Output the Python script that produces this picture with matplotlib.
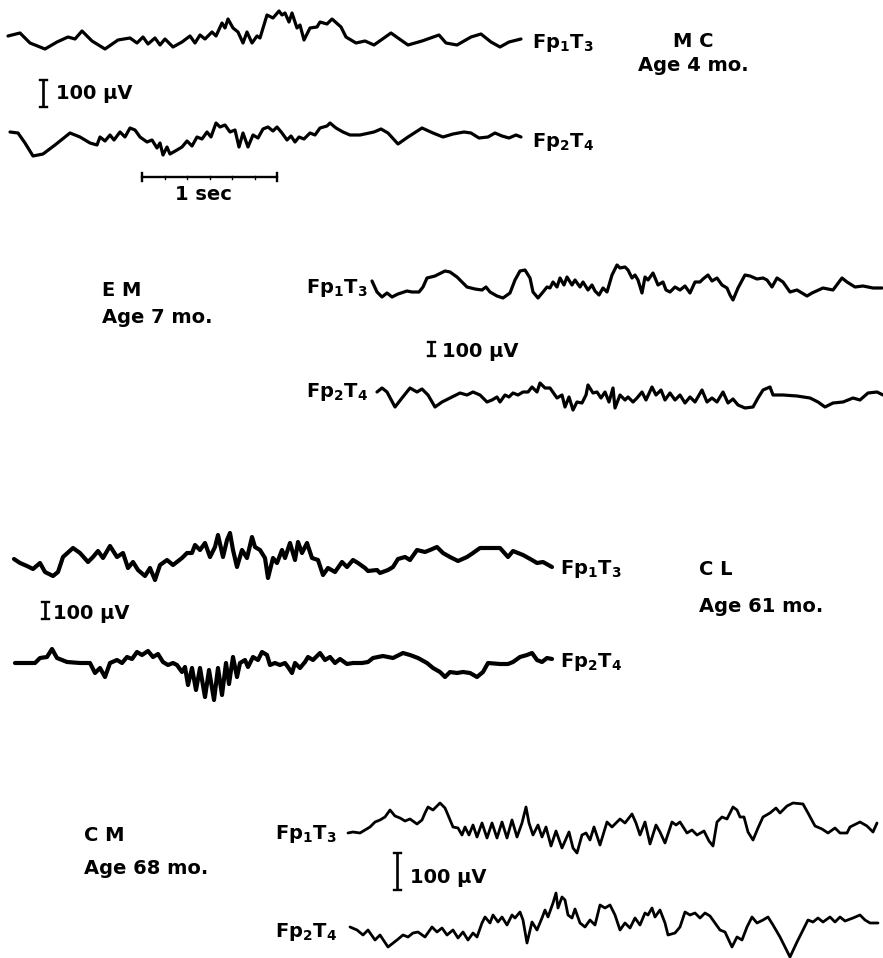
#!/usr/bin/env python3
"""Redraw the four-child EEG figure (Fp1T3 / Fp2T4 pairs) as out.png."""

import matplotlib

matplotlib.use("Agg")
import matplotlib.pyplot as plt
import numpy as np

INK = "#000000"
W, H = 883, 958

# Each entry is (time, deflection): time in pen steps from the start of the
# trace (about 135 steps = 1 sec), deflection in steps upward from baseline.
MC_FP1T3 = [
    (0, 4), (12, 7), (22, -3), (37, -9), (49, -2), (60, 3), (67, 1), (74, 9),
    (84, -1), (97, -9), (110, 0), (122, 2), (129, -3), (135, 3), (140, -4),
    (147, 2), (152, -5), (157, 1), (165, -7), (174, -2), (182, 4), (187, -3),
    (192, 5), (197, 1), (204, 8), (208, 4), (214, 17), (217, 12), (220, 21),
    (225, 12), (230, 8), (235, -3), (239, 8), (244, -3), (249, 4), (252, 2),
    (259, 25), (265, 22), (271, 29), (274, 25), (277, 27), (281, 18),
    (284, 27), (289, 12), (292, 15), (296, 0), (302, 12), (309, 13),
    (312, 18), (319, 16), (324, 21), (333, 13), (338, 3), (348, -3),
    (357, -1), (366, -5), (383, 7), (390, 2), (400, -5), (414, -1), (431, 5),
    (438, -3), (449, -5), (463, 3), (473, 6), (483, -2), (492, -7),
    (501, -2), (513, 1),
]
MC_FP2T4 = [
    (0, 8), (8, 7), (15, -3), (23, -16), (33, -14), (45, -5), (60, 7),
    (70, 3), (80, -3), (87, -5), (90, 3), (95, -1), (100, 5), (104, 0),
    (110, 8), (115, 3), (120, 12), (125, 10), (130, 3), (137, -2), (142, 0),
    (147, -8), (150, -3), (153, -15), (157, -7), (160, -14), (167, -10),
    (172, -7), (177, -1), (182, -6), (187, 3), (192, 1), (197, 8), (201, 3),
    (206, 17), (210, 13), (215, 15), (220, 8), (225, 10), (229, -7),
    (233, 7), (238, -7), (243, 5), (248, 2), (253, 11), (258, 13), (263, 9),
    (267, 13), (272, 7), (277, 0), (281, 4), (285, -2), (289, 3), (294, 1),
    (300, 7), (305, 5), (310, 12), (317, 14), (320, 17), (326, 12),
    (333, 8), (340, 5), (350, 5), (364, 8), (371, 11), (378, 7), (388, -4),
    (398, 3), (412, 12), (423, 7), (433, 3), (443, 6), (454, 8), (461, 7),
    (469, 2), (478, 3), (485, 7), (492, 4), (499, 2), (506, 5), (511, 3),
]
EM_FP1T3 = [
    (0, 4), (5, -7), (10, -12), (15, -8), (20, -12), (26, -9), (35, -6),
    (40, -7), (47, -7), (51, -2), (55, 7), (63, 9), (73, 14), (78, 13),
    (85, 8), (90, 3), (95, -2), (103, -4), (110, -5), (114, -2), (118, -7),
    (125, -11), (131, -13), (138, -8), (143, 5), (148, 14), (153, 15),
    (158, 7), (161, -7), (166, -13), (171, -7), (175, -2), (178, -3),
    (181, 3), (185, -2), (188, 7), (192, 0), (195, 8), (200, 0), (203, 5),
    (208, -2), (211, 3), (216, -5), (220, 0), (223, -6), (227, -10),
    (231, -3), (235, -7), (240, 10), (245, 20), (248, 17), (253, 18),
    (256, 15), (260, 7), (263, 10), (266, 5), (270, -8), (273, 8), (276, 5),
    (281, 12), (286, 0), (291, 3), (294, -5), (298, -7), (303, -2),
    (308, -5), (313, -1), (318, -8), (323, 3), (328, 3), (331, 6), (336, 10),
    (340, 4), (345, 7), (350, 0), (355, -3), (358, -10), (361, -15),
    (366, -3), (373, 10), (378, 9), (385, 6), (391, 7), (395, 5), (400, -2),
    (405, 7), (411, 3), (418, -7), (425, -5), (435, -11), (440, -8),
    (451, -3), (461, -5), (470, 7), (475, 3), (483, -2), (491, -1),
    (501, -3), (510, -3),
]
EM_FP2T4 = [
    (0, 3), (5, 7), (10, 3), (18, -12), (25, -3), (33, 7), (40, 3), (45, 6),
    (51, 0), (58, -12), (65, -7), (75, -2), (83, 2), (90, 0), (96, 3),
    (103, 0), (110, -7), (115, -5), (120, -2), (123, -7), (128, 0),
    (132, -2), (136, 2), (141, 0), (146, 3), (151, 3), (155, 8), (160, 3),
    (163, 12), (168, 7), (173, 7), (180, -3), (185, 0), (188, -12),
    (192, -2), (196, -15), (200, -7), (205, -8), (209, 0), (211, 10),
    (216, 2), (220, 3), (224, -3), (228, 3), (232, -7), (236, 7), (238, -13),
    (243, 0), (248, -5), (251, -2), (256, -7), (260, -3), (265, 3),
    (269, -5), (275, 8), (279, 0), (284, 5), (288, -5), (293, 2), (298, -5),
    (303, 0), (308, -8), (313, -2), (318, -7), (325, 5), (330, -7),
    (335, -3), (340, -7), (346, 3), (351, -8), (356, -4), (361, -10),
    (368, -13), (376, -12), (381, -3), (386, 5), (393, 8), (396, 0),
    (406, 0), (420, -1), (433, -3), (441, -7), (448, -12), (456, -8),
    (466, -7), (476, -3), (483, -5), (491, 2), (500, 3), (506, 0),
]
CL_FP1T3 = [
    (0, 1), (6, -3), (13, -6), (19, -9), (26, -3), (31, -12), (39, -16),
    (44, -12), (49, 3), (59, 12), (66, 7), (74, -2), (79, 3), (84, 9),
    (89, 2), (96, 14), (103, 3), (109, 7), (114, -8), (119, -2), (124, -10),
    (131, -16), (136, -8), (141, -20), (146, -5), (153, 0), (159, -5),
    (168, 2), (173, 7), (178, 7), (181, 15), (186, 10), (191, 17), (196, 3),
    (201, 13), (204, 25), (209, 3), (213, 20), (216, 27), (219, 10),
    (223, -7), (228, 10), (233, 2), (238, 23), (241, 13), (246, 10),
    (251, 2), (254, -18), (259, 2), (263, -3), (268, 10), (271, 2),
    (276, 17), (281, 0), (284, 18), (288, 7), (293, 17), (298, 2), (304, 0),
    (309, -15), (314, -8), (321, -12), (328, -2), (333, -7), (339, 0),
    (344, -3), (351, -8), (354, -11), (363, -10), (366, -13), (374, -10),
    (379, -7), (384, 1), (391, 3), (396, 0), (403, 10), (411, 8), (416, 10),
    (423, 13), (429, 7), (436, 3), (444, -1), (453, 3), (459, 7), (466, 12),
    (476, 12), (486, 12), (494, 3), (499, 9), (509, 5), (518, 0),
    (523, -3), (529, -2), (538, -7),
]
CL_FP2T4 = [
    (0, -3), (12, -3), (20, -3), (25, 2), (32, 3), (37, 11), (42, 2),
    (52, -2), (65, -3), (75, -3), (80, -13), (85, -8), (90, -17), (95, -3),
    (102, 0), (107, -3), (112, 3), (117, 1), (122, 8), (127, 5), (133, 9),
    (138, 3), (143, 6), (148, -2), (153, -5), (158, -3), (162, -5),
    (167, -12), (170, -7), (173, -25), (177, -8), (181, -30), (185, -8),
    (190, -37), (194, -10), (199, -40), (203, -8), (207, -35), (211, -3),
    (214, -24), (218, 3), (222, -17), (225, -3), (230, 0), (233, -7),
    (238, 3), (243, 0), (247, 8), (252, 5), (255, -5), (260, -3), (265, -5),
    (270, -3), (273, -7), (277, -13), (280, -3), (285, -8), (290, -2),
    (293, 3), (298, 0), (305, 7), (310, 0), (315, 3), (320, -3), (325, 1),
    (332, -4), (338, -3), (347, -3), (353, -2), (358, 2), (368, 4),
    (378, 2), (388, 7), (395, 5), (403, 2), (412, -3), (418, -8),
    (425, -12), (430, -17), (435, -12), (442, -13), (448, -12), (455, -13),
    (462, -17), (468, -12), (473, -3), (485, -4), (493, -4), (498, -2),
    (505, 3), (512, 5), (517, 7), (522, 0), (527, -2), (532, 2), (537, 1),
]
CM_FP1T3 = [
    (0, -3), (5, -2), (12, -3), (17, 0), (22, 3), (27, 8), (32, 10),
    (37, 13), (42, 20), (47, 14), (52, 12), (57, 9), (62, 11), (69, 6),
    (74, 10), (77, 17), (80, 23), (85, 20), (92, 27), (97, 22), (100, 15),
    (105, 3), (110, 2), (114, -5), (117, 3), (121, -5), (125, 5), (129, -7),
    (134, 7), (139, -8), (144, 7), (149, -8), (154, 8), (159, -8), (164, 10),
    (169, -7), (174, 7), (178, 23), (181, 7), (185, -5), (190, 5), (194, -7),
    (198, 3), (203, -16), (208, -1), (214, -18), (221, -2), (225, -18),
    (229, -23), (234, -5), (238, -3), (242, -10), (246, 3), (252, -15),
    (259, 8), (264, 3), (272, 11), (277, 7), (284, 16), (288, 7), (292, -5),
    (297, 8), (302, -14), (308, 5), (312, -2), (317, -13), (324, 8),
    (328, 5), (332, 8), (339, -3), (344, 0), (349, -5), (356, -1),
    (361, -11), (365, -16), (369, 8), (374, 13), (379, 11), (385, 23),
    (389, 20), (392, 13), (396, 13), (400, -2), (405, -10), (410, 2),
    (415, 13), (422, 17), (428, 22), (432, 17), (439, 24), (445, 27),
    (455, 26), (460, 17), (467, 4), (474, 1), (480, -3), (487, 2),
    (492, -3), (499, -3), (502, 3), (512, 8), (519, 4), (525, -2), (529, 7),
]
CM_FP2T4 = [
    (0, -2), (7, -5), (13, -10), (18, -5), (25, -15), (30, -10), (38, -22),
    (47, -15), (53, -10), (58, -12), (63, -8), (68, -7), (75, -12), (82, -2),
    (87, -7), (92, -3), (97, -10), (103, -5), (108, -13), (113, -7),
    (118, -15), (123, -8), (127, -12), (132, 2), (135, 8), (140, 2),
    (143, 10), (148, 3), (152, 8), (157, 0), (162, 10), (165, 7), (170, 13),
    (173, 5), (177, -18), (182, 3), (187, -5), (192, 7), (195, 15), (198, 8),
    (203, 22), (206, 32), (208, 17), (212, 28), (215, 25), (218, 10),
    (222, 7), (225, 16), (230, 2), (235, -2), (240, 5), (245, 0), (250, 20),
    (255, 17), (260, 20), (265, 10), (270, -5), (275, 2), (280, -3),
    (285, 7), (290, 0), (295, 12), (298, 10), (302, 17), (305, 8),
    (310, 15), (315, 2), (318, -10), (325, -8), (330, -2), (335, 13),
    (340, 10), (345, 12), (350, 7), (355, 12), (360, 9), (365, 2),
    (370, -5), (375, -7), (382, -22), (387, -12), (392, -15), (397, -2),
    (402, 8), (407, 2), (413, 5), (418, 8), (423, 0), (430, -12),
    (440, -32), (447, -17), (453, -5), (458, 5), (463, 3), (468, 7),
    (473, 3), (480, 8), (485, 3), (490, 8), (495, 4), (503, 7), (510, 10),
    (515, 5), (520, 2), (528, 2),
]

SUBJECTS = ["M C", "E M", "C L", "C M"]
AGES = ["Age 4 mo.", "Age 7 mo.", "Age 61 mo.", "Age 68 mo."]
LEAD_1 = r"Fp$_1$T$_3$"
LEAD_2 = r"Fp$_2$T$_4$"
CAL_LABEL = "100 \u00b5V"
TIME_LABEL = "1 sec"

# layout on the page (pixels): trace origin x, baseline y, line width
TRACE_LAYOUT = [
    (MC_FP1T3, 8, 40, 2.3),
    (MC_FP2T4, 10, 140, 2.3),
    (EM_FP1T3, 372, 285, 2.3),
    (EM_FP2T4, 377, 395, 2.3),
    (CL_FP1T3, 14, 560, 3.0),
    (CL_FP2T4, 15, 660, 3.0),
    (CM_FP1T3, 348, 830, 2.0),
    (CM_FP2T4, 350, 925, 2.0),
]
# lead labels: (x, baseline)
LEAD_LAYOUT = [
    (532, 48, LEAD_1), (532, 147, LEAD_2),
    (306, 293, LEAD_1), (306, 397, LEAD_2),
    (560, 574, LEAD_1), (560, 667, LEAD_2),
    (275, 839, LEAD_1), (275, 937, LEAD_2),
]
# subject/age labels: (x, name baseline, age baseline, ha)
NAME_LAYOUT = [
    (693, 47, 71, "center"),
    (102, 296, 323, "left"),
    (699, 575, 612, "left"),
    (84, 841, 874, "left"),
]
# calibration bars: (x, top, bottom, text x, text baseline)
CAL_LAYOUT = [
    (43, 80, 107, 56, 99),
    (431, 342, 356, 442, 357),
    (45, 602, 619, 53, 619),
    (397, 853, 890, 410, 883),
]

FONT = dict(family="DejaVu Sans", fontsize=14, fontweight="bold", color=INK)


def cal_bar(ax, x, top, bottom, cap=3.5):
    ax.plot([x, x], [top, bottom], color=INK, lw=1.9, solid_capstyle="butt")
    for yy in (top, bottom):
        ax.plot([x - cap, x + cap], [yy, yy], color=INK, lw=1.7)


def main():
    plt.rcParams["mathtext.default"] = "bf"
    fig = plt.figure(figsize=(W / 100, H / 100), dpi=100)
    ax = fig.add_axes([0, 0, 1, 1])
    ax.set_xlim(0, W)
    ax.set_ylim(H, 0)
    ax.axis("off")

    for trace, x0, y0, lw in TRACE_LAYOUT:
        t, v = np.array(trace, dtype=float).T
        ax.plot(x0 + t, y0 - v, color=INK, lw=lw,
                solid_joinstyle="round", solid_capstyle="round")

    for x, y, label in LEAD_LAYOUT:
        ax.text(x, y, label, ha="left", va="baseline", **FONT)

    for (x, y_name, y_age, ha), name, age in zip(NAME_LAYOUT, SUBJECTS, AGES):
        ax.text(x, y_name, name, ha=ha, va="baseline", **FONT)
        ax.text(x, y_age, age, ha=ha, va="baseline", **FONT)

    for x, top, bottom, tx, ty in CAL_LAYOUT:
        cal_bar(ax, x, top, bottom)
        ax.text(tx, ty, CAL_LABEL, ha="left", va="baseline", **FONT)

    # 1 sec time bar with small ruler ticks
    x_a, x_b, y_bar = 142, 277, 177
    ax.plot([x_a, x_b], [y_bar, y_bar], color=INK, lw=1.7)
    for xx in (x_a, x_b):
        ax.plot([xx, xx], [y_bar - 4, y_bar + 4], color=INK, lw=1.7)
    for xx in np.linspace(x_a, x_b, 7)[1:-1]:
        ax.plot([xx, xx], [y_bar - 1.5, y_bar + 1.5], color=INK, lw=1.0)
    ax.text(203, 200, TIME_LABEL, ha="center", va="baseline", **FONT)

    fig.savefig("out.png", dpi=100, facecolor="white")
    plt.close(fig)


if __name__ == "__main__":
    main()
